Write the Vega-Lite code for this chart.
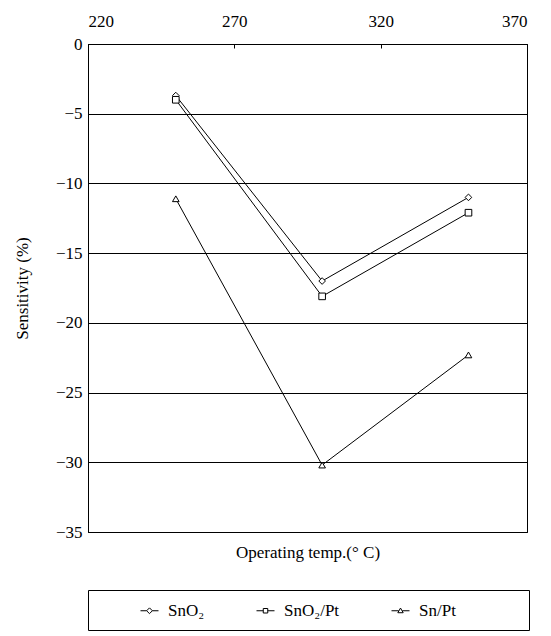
{
  "$schema": "https://vega.github.io/schema/vega-lite/v6.json",
  "width": 439,
  "height": 488,
  "padding": {"left": 13, "top": 12, "right": 6, "bottom": 0},
  "background": "white",
  "data": {
    "values": [
      {"temp": 250, "sens": -3.7, "series": "SnO₂"},
      {"temp": 300, "sens": -17.0, "series": "SnO₂"},
      {"temp": 350, "sens": -11.0, "series": "SnO₂"},
      {"temp": 250, "sens": -4.0, "series": "SnO₂/Pt"},
      {"temp": 300, "sens": -18.1, "series": "SnO₂/Pt"},
      {"temp": 350, "sens": -12.1, "series": "SnO₂/Pt"},
      {"temp": 250, "sens": -11.1, "series": "Sn/Pt"},
      {"temp": 300, "sens": -30.2, "series": "Sn/Pt"},
      {"temp": 350, "sens": -22.3, "series": "Sn/Pt"}
    ]
  },
  "resolve": {"scale": {"shape": "independent"}, "axis": {"x": "independent"}},
  "layer": [
    {
      "mark": {"type": "line", "color": "black", "strokeWidth": 1},
      "encoding": {
        "x": {"field": "temp", "type": "quantitative",
          "scale": {"domain": [220, 370], "nice": false, "zero": false},
          "axis": {"orient": "top", "values": [220, 270, 320, 370], "title": null, "grid": false, "tickSize": -4, "labelPadding": 18, "domain": true, "labelFont": "Times New Roman", "labelFontSize": 17}},
        "y": {"field": "sens", "type": "quantitative",
          "scale": {"domain": [-35, 0], "nice": false},
          "axis": {"values": [0, -5, -10, -15, -20, -25, -30, -35], "title": "Sensitivity (%)", "grid": true, "ticks": false, "labelPadding": 6, "titlePadding": 24, "labelFont": "Times New Roman", "labelFontSize": 17}},
        "detail": {"field": "series"}
      }
    },
    {
      "mark": {"type": "point", "filled": true, "fill": "white", "stroke": "black", "strokeWidth": 1, "size": 44, "opacity": 1},
      "encoding": {
        "x": {"field": "temp", "type": "quantitative",
          "axis": {"orient": "bottom", "labels": false, "ticks": false, "grid": false, "domain": true, "title": "Operating temp.(° C)", "titlePadding": 12}},
        "y": {"field": "sens", "type": "quantitative"},
        "shape": {"field": "series", "type": "nominal",
          "scale": {"domain": ["SnO₂", "SnO₂/Pt", "Sn/Pt"], "range": ["diamond", "square", "triangle-up"]},
          "legend": null}
      }
    },
    {
      "transform": [{"filter": "false"}],
      "mark": {"type": "point", "filled": false, "color": "black", "strokeWidth": 1, "size": 324, "opacity": 1},
      "encoding": {
        "shape": {"field": "series", "type": "nominal",
          "scale": {"domain": ["SnO₂", "SnO₂/Pt", "Sn/Pt"],
            "range": [
              "M-1,0H-0.32M0.32,0H1M-0.32,0L0,-0.32L0.32,0L0,0.32Z",
              "M-1,0H-0.25M0.25,0H1M-0.25,-0.25H0.25V0.25H-0.25Z",
              "M-1,0H-0.2M0.2,0H1M-0.3,0.22L0,-0.3L0.3,0.22Z"
            ]},
          "legend": {"orient": "bottom", "direction": "horizontal", "columns": 3, "gridAlign": "each",
            "title": "\u2003", "titleOrient": "right", "titlePadding": 62, "titleFontSize": 17,
            "symbolOffset": 41,
            "strokeColor": "black", "padding": 11, "columnPadding": 10,
            "offset": 30, "symbolSize": 324, "symbolStrokeWidth": 1, "symbolStrokeColor": "black",
            "labelFontSize": 17, "labelFont": "Liberation Serif", "labelColor": "black", "labelOffset": 9}}
      }
    }
  ],
  "config": {
    "view": {"stroke": "black", "strokeWidth": 1},
    "font": "Liberation Serif",
    "style": {"guide-label": {"font": "Liberation Serif"}, "guide-title": {"font": "Liberation Serif"}},
    "axis": {
      "labelFont": "Times New Roman", "titleFont": "Liberation Serif",
      "labelFontSize": 17, "titleFontSize": 17, "titleFontWeight": "normal",
      "labelColor": "black", "titleColor": "black", "domainColor": "black", "tickColor": "black",
      "gridColor": "black", "gridWidth": 1, "gridOpacity": 1, "domainWidth": 1
    }
  }
}
